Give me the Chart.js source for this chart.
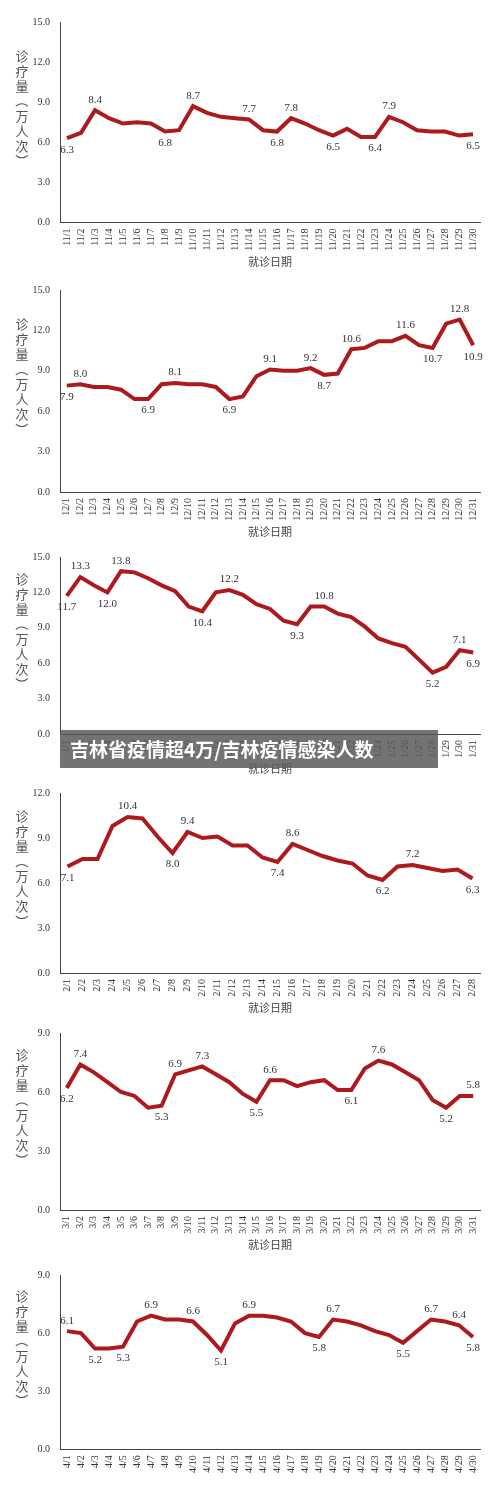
<!DOCTYPE html>
<html><head><meta charset="utf-8">
<script src="https://cdn.jsdelivr.net/npm/chart.js@4"></script>
<style>body{margin:0;background:#fff;width:500px;height:1501px;position:relative;overflow:hidden}
.c{position:absolute;left:0;width:500px}
#banner{position:absolute;left:60px;top:730px;width:378px;height:38px;background:rgba(90,90,90,0.85);color:#fff;font:bold 19px "Noto Sans CJK SC";line-height:38px;padding-left:10px;box-sizing:border-box}
</style></head><body>
<div class="c" style="top:0;height:272px"><canvas id="c1"></canvas></div>
<div class="c" style="top:268px;height:274px"><canvas id="c2"></canvas></div>
<div class="c" style="top:535px;height:244px"><canvas id="c3"></canvas></div>
<div class="c" style="top:771px;height:247px"><canvas id="c4"></canvas></div>
<div class="c" style="top:1011px;height:244px"><canvas id="c5"></canvas></div>
<div class="c" style="top:1253px;height:248px"><canvas id="c6"></canvas></div>
<div id="banner">吉林省疫情超4万/吉林疫情感染人数</div>
<script>
const novValues=[6.3,6.7,8.4,7.8,7.4,7.5,7.4,6.8,6.9,8.7,8.2,7.9,7.8,7.7,6.9,6.8,7.8,7.4,6.9,6.5,7.0,6.4,6.4,7.9,7.5,6.9,6.8,6.8,6.5,6.6];
const decValues=[7.9,8.0,7.8,7.8,7.6,6.9,6.9,8.0,8.1,8.0,8.0,7.8,6.9,7.1,8.6,9.1,9.0,9.0,9.2,8.7,8.8,10.6,10.7,11.2,11.2,11.6,10.9,10.7,12.5,12.8,10.9];
const janValues=[11.7,13.3,12.6,12.0,13.8,13.7,13.2,12.6,12.1,10.8,10.4,12.0,12.2,11.8,11.0,10.6,9.6,9.3,10.8,10.8,10.2,9.9,9.1,8.1,7.7,7.4,6.3,5.2,5.7,7.1,6.9];
const febValues=[7.1,7.6,7.6,9.8,10.4,10.3,9.1,8.0,9.4,9.0,9.1,8.5,8.5,7.7,7.4,8.6,8.2,7.8,7.5,7.3,6.5,6.2,7.1,7.2,7.0,6.8,6.9,6.3];
const marValues=[6.2,7.4,7.0,6.5,6.0,5.8,5.2,5.3,6.9,7.1,7.3,6.9,6.5,5.9,5.5,6.6,6.6,6.3,6.5,6.6,6.1,6.1,7.2,7.6,7.4,7.0,6.6,5.6,5.2,5.8,5.8];
const aprValues=[6.1,6.0,5.2,5.2,5.3,6.6,6.9,6.7,6.7,6.6,5.9,5.1,6.5,6.9,6.9,6.8,6.6,6.0,5.8,6.7,6.6,6.4,6.1,5.9,5.5,6.1,6.7,6.6,6.4,5.8];
const novLabels=[[0,'6.3','b'],[2,'8.4','a'],[7,'6.8','b'],[9,'8.7','a'],[13,'7.7','a'],[15,'6.8','b'],[16,'7.8','a'],[19,'6.5','b'],[22,'6.4','b'],[23,'7.9','a'],[29,'6.5','b']];
const decLabels=[[0,'7.9','b'],[1,'8.0','a'],[6,'6.9','b'],[8,'8.1','a'],[12,'6.9','b'],[15,'9.1','a'],[18,'9.2','a'],[19,'8.7','b'],[21,'10.6','a'],[25,'11.6','a'],[27,'10.7','b'],[29,'12.8','a'],[30,'10.9','b']];
const janLabels=[[0,'11.7','b'],[1,'13.3','a'],[3,'12.0','b'],[4,'13.8','a'],[10,'10.4','b'],[12,'12.2','a'],[17,'9.3','b'],[19,'10.8','a'],[27,'5.2','b'],[29,'7.1','a'],[30,'6.9','b']];
const febLabels=[[0,'7.1','b'],[4,'10.4','a'],[7,'8.0','b'],[8,'9.4','a'],[14,'7.4','b'],[15,'8.6','a'],[21,'6.2','b'],[23,'7.2','a'],[27,'6.3','b']];
const marLabels=[[0,'6.2','b'],[1,'7.4','a'],[7,'5.3','b'],[8,'6.9','a'],[10,'7.3','a'],[14,'5.5','b'],[15,'6.6','a'],[21,'6.1','b'],[23,'7.6','a'],[28,'5.2','b'],[30,'5.8','a']];
const aprLabels=[[0,'6.1','a'],[2,'5.2','b'],[4,'5.3','b'],[6,'6.9','a'],[9,'6.6','a'],[11,'5.1','b'],[13,'6.9','a'],[18,'5.8','b'],[19,'6.7','a'],[24,'5.5','b'],[26,'6.7','a'],[28,'6.4','a'],[29,'5.8','b']];
const yMaxes=[15,15,15,12,9,9];
const months=[11,12,1,2,3,4];
const xTitle='就诊日期', yTitle='诊疗量（万人次）';

const serif='"Liberation Serif", serif';
const vTitle={id:'vt',afterDraw(ch){const c=ch.ctx,a=ch.chartArea;c.save();c.fillStyle='#555';c.font='13px "Noto Sans CJK SC"';c.textAlign='center';c.textBaseline='middle';
 const chars=[...yTitle];const cy=(a.top+a.bottom)/2-14;const x=22;
 chars.forEach((s,i)=>{const y=cy+(i-(chars.length-1)/2)*15;
  if(s==='（'||s==='）'){c.save();c.translate(x,y);c.rotate(Math.PI/2);c.fillText(s,0,0);c.restore();}else c.fillText(s,x,y);});
 c.restore();}};
const dl={id:'dl',afterDatasetsDraw(ch,args,o){const c=ch.ctx;const m=ch.getDatasetMeta(0);c.save();c.fillStyle='#333';c.font='11px '+serif;c.textAlign='center';
 (o.items||[]).forEach(([i,t,p])=>{const pt=m.data[i];c.textBaseline=p==='a'?'bottom':'top';c.fillText(t,pt.x,p==='a'?pt.y-5:pt.y+6);});c.restore();}};

function make(id,vals,labs,ymax,mon,showTitle){
 const cats=vals.map((_,i)=>mon+'/'+(i+1));
 new Chart(document.getElementById(id),{type:'line',
  data:{labels:cats,datasets:[{data:vals,borderColor:'#ad1a1d',borderWidth:4,pointRadius:0,tension:0,fill:false}]},
  plugins:[vTitle,dl],
  options:{responsive:true,maintainAspectRatio:false,animation:false,
   layout:{padding:{left:18,right:20,top:22,bottom:showTitle?0:26}},
   plugins:{legend:{display:false},tooltip:{enabled:false},dl:{items:labs}},
   scales:{
    x:{offset:true,grid:{display:false,drawTicks:true,tickLength:4,color:'#444'},border:{color:'#444'},
      ticks:{autoSkip:false,minRotation:90,maxRotation:90,color:'#333',font:{size:10,family:serif},padding:2},
      title:{display:showTitle,text:xTitle,color:'#444',font:{size:11,family:'"Noto Sans CJK SC"'},padding:{top:2}}},
    y:{min:0,max:ymax,afterFit(s){s.width=42;},grid:{display:false,drawTicks:true,tickLength:4,color:'#444'},border:{color:'#444'},
      ticks:{stepSize:3,color:'#333',font:{size:10,family:serif},callback:v=>v.toFixed(1),padding:6}}
   }}});
}
make('c1',novValues,novLabels,yMaxes[0],months[0],true);
make('c2',decValues,decLabels,yMaxes[1],months[1],true);
make('c3',janValues,janLabels,yMaxes[2],months[2],true);
make('c4',febValues,febLabels,yMaxes[3],months[3],true);
make('c5',marValues,marLabels,yMaxes[4],months[4],true);
make('c6',aprValues,aprLabels,yMaxes[5],months[5],false);
</script></body></html>
